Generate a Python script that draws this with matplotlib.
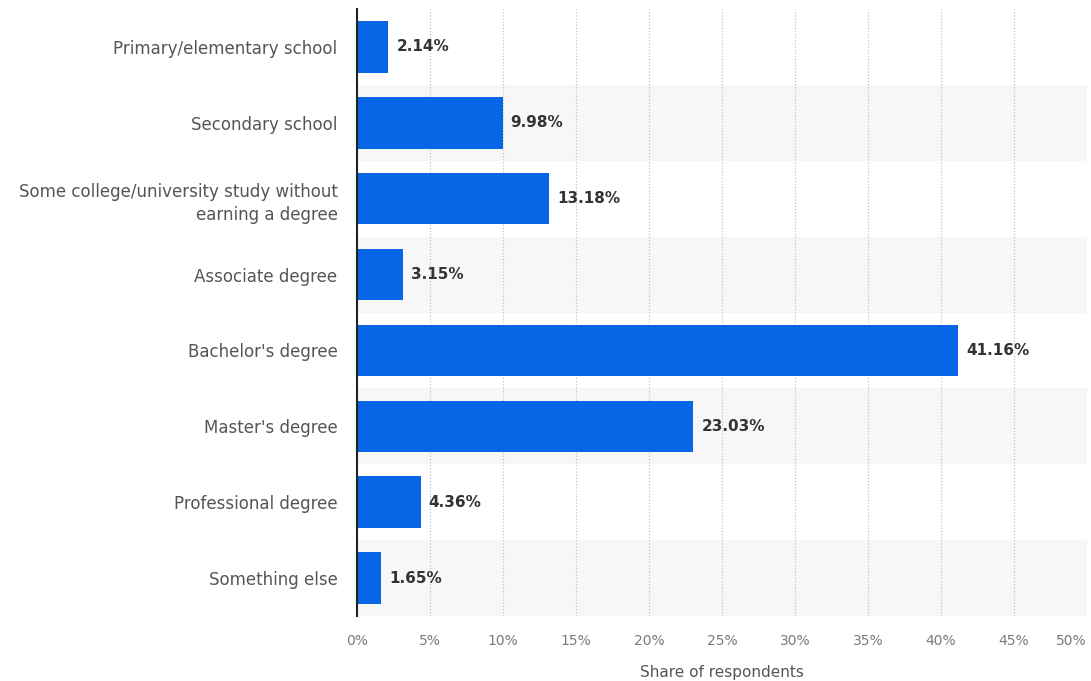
import matplotlib.pyplot as plt

categories = [
    "Primary/elementary school",
    "Secondary school",
    "Some college/university study without\nearning a degree",
    "Associate degree",
    "Bachelor's degree",
    "Master's degree",
    "Professional degree",
    "Something else",
]
shares = [2.14, 9.98, 13.18, 3.15, 41.16, 23.03, 4.36, 1.65]
xticks = [0, 5, 10, 15, 20, 25, 30, 35, 40, 45, 50]

fig = plt.figure(figsize=(10.91, 6.81), dpi=100)
ax = fig.add_axes([357 / 1091, 1 - 616 / 681, 730 / 1091, 607 / 681])

ypos = list(range(len(categories)))

# alternating row shading
for i in ypos:
    if i % 2 == 1:
        ax.axhspan(i - 0.5, i + 0.5, color="#f7f7f7", zorder=0, lw=0)

for x in xticks[1:]:
    ax.axvline(x, color="#c4c4c4", lw=0.9, ls=(0, (1, 1.5)), zorder=1)

ax.barh(ypos, shares, height=0.68, color="#0766e6", zorder=2)

for y, v in zip(ypos, shares):
    ax.text(v + 0.55, y, f"{v:.2f}%", va="center", ha="left",
            fontsize=11, fontweight="bold", color="#333333", zorder=3)

ax.set_ylim(len(categories) - 0.5, -0.5)
ax.set_xlim(0, 50)
ax.set_yticks(ypos)
ax.set_yticklabels(categories, fontsize=12, color="#555555", ha="right",
                   linespacing=1.4)
ax.set_xticks(xticks)
xlabels = ax.set_xticklabels([f"{x}%" for x in xticks], fontsize=10, color="#7a7a7a")
xlabels[-1].set_ha("right")
xlabels[-1].set_x(50.0)
ax.tick_params(axis="y", length=0, pad=14)
ax.tick_params(axis="x", length=0, pad=13)
ax.set_xlabel("Share of respondents", fontsize=11, color="#555555", labelpad=12)

for s in ["top", "right", "bottom"]:
    ax.spines[s].set_visible(False)
ax.spines["left"].set_color("#222222")
ax.spines["left"].set_linewidth(1.5)

fig.savefig("out.png", dpi=100)
